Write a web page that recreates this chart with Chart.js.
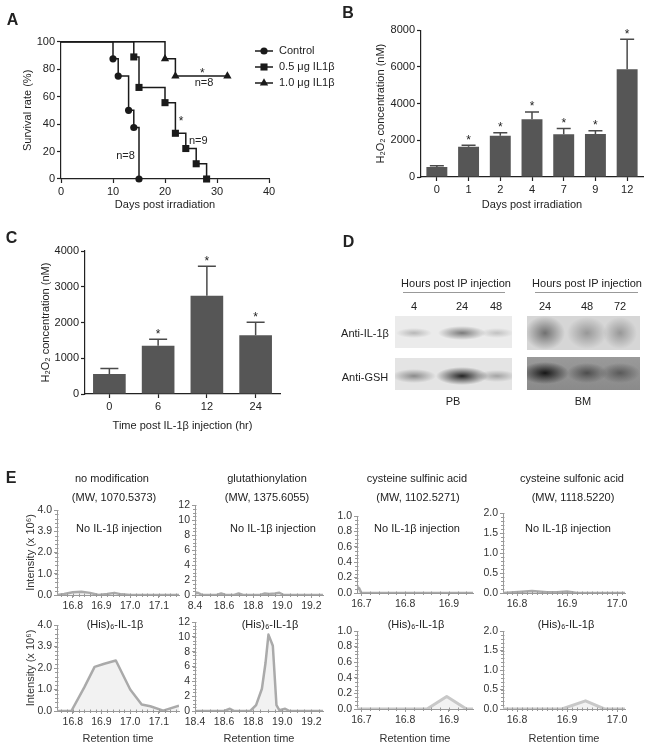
<!DOCTYPE html>
<html>
<head>
<meta charset="utf-8">
<script src="https://cdn.jsdelivr.net/npm/chart.js@4.4.1/dist/chart.umd.min.js"></script>
<style>
  body { margin: 0; background: #fff; }
  #fig { position: relative; width: 651px; height: 749px; overflow: hidden; font-family: "Liberation Sans", Arial, Helvetica, sans-serif; color: #222; }
  #fig canvas { position: absolute; left: 0; top: 0; }
  .t { position: absolute; white-space: nowrap; font-size: 11px; transform: translate(-50%, -50%); }
  .lbl { font-weight: bold; font-size: 16px; }
  .blot, .rule { position: absolute; }
  .rule { height: 0; border-top: 1px solid #999; }
</style>
</head>
<body>
<div id="fig">
  <canvas id="cA" width="651" height="749"></canvas>
  <canvas id="cB" width="651" height="749"></canvas>
  <canvas id="cC" width="651" height="749"></canvas>
  <canvas id="e1" width="651" height="749"></canvas>
  <canvas id="e2" width="651" height="749"></canvas>
  <canvas id="e3" width="651" height="749"></canvas>
  <canvas id="e4" width="651" height="749"></canvas>
  <canvas id="e5" width="651" height="749"></canvas>
  <canvas id="e6" width="651" height="749"></canvas>
  <canvas id="e7" width="651" height="749"></canvas>
  <canvas id="e8" width="651" height="749"></canvas>

  <!-- D: blots -->
  <div class="rule" style="left:403px;top:292px;width:102px"></div>
  <div class="rule" style="left:535px;top:292px;width:103px"></div>
  <div class="blot" style="left:395px;top:316px;width:117px;height:32px;background:
    radial-gradient(ellipse 18px 5px at 19px 17px, rgba(120,120,120,.45), rgba(120,120,120,0)),
    radial-gradient(ellipse 24px 7px at 67px 17px, rgba(85,85,85,.75), rgba(85,85,85,0)),
    radial-gradient(ellipse 17px 5px at 102px 17px, rgba(130,130,130,.4), rgba(130,130,130,0)),
    #ebebeb"></div>
  <div class="blot" style="left:395px;top:358px;width:117px;height:32px;background:
    radial-gradient(ellipse 22px 7px at 19px 18px, rgba(90,90,90,.65), rgba(90,90,90,0)),
    radial-gradient(ellipse 26px 9px at 67px 18px, rgba(25,25,25,.95), rgba(25,25,25,0)),
    radial-gradient(ellipse 20px 6px at 102px 18px, rgba(110,110,110,.55), rgba(110,110,110,0)),
    #e4e4e4"></div>
  <div class="blot" style="left:527px;top:316px;width:113px;height:34px;background:
    radial-gradient(ellipse 20px 17px at 18px 17px, rgba(70,70,70,.7), rgba(70,70,70,0)),
    radial-gradient(ellipse 20px 16px at 60px 17px, rgba(100,100,100,.55), rgba(100,100,100,0)),
    radial-gradient(ellipse 17px 16px at 93px 17px, rgba(100,100,100,.55), rgba(100,100,100,0)),
    #d6d6d6"></div>
  <div class="blot" style="left:527px;top:357px;width:113px;height:33px;background:
    radial-gradient(ellipse 24px 11px at 18px 16px, rgba(15,15,15,.95), rgba(15,15,15,0)),
    radial-gradient(ellipse 20px 10px at 60px 16px, rgba(60,60,60,.8), rgba(60,60,60,0)),
    radial-gradient(ellipse 20px 10px at 93px 16px, rgba(70,70,70,.75), rgba(70,70,70,0)),
    linear-gradient(#9a9a9a, #8a8a8a)"></div>
</div>

<script>
// ---- A: survival after irradiation ----
const ctrlDays = [0, 10, 11, 13, 14, 15];
const ctrlSurv = [100, 87.5, 75, 50, 37.5, 0];
const lowDays = [0, 14, 15, 20, 22, 24, 26, 28];
const lowSurv = [100, 88.9, 66.7, 55.6, 33.3, 22.2, 11.1, 0];
const highDays = [0, 20, 22, 32];
const highSurv = [100, 87.5, 75, 75];
const aSeries = ['Control', '0.5 μg IL1β', '1.0 μg IL1β'];

// ---- B: H2O2 by day ----
const bDays = ['0', '1', '2', '4', '7', '9', '12'];
const bMean = [550, 1650, 2250, 3150, 2330, 2350, 5870];
const bSem = [70, 80, 160, 400, 310, 170, 1640];
const bStar = [false, true, true, true, true, true, true];

// ---- C: H2O2 by hour after IL-1b ----
const cHours = ['0', '6', '12', '24'];
const cMean = [560, 1350, 2750, 1640];
const cSem = [150, 180, 820, 370];
const cStar = [false, true, true, true];

// ---- E: extracted ion chromatograms ----
const e1X = [16.745, 16.77, 16.8, 16.83, 16.86, 16.89, 16.92, 16.945, 16.97, 17.0, 17.17];
const e1Y = [0, 0.05, 0.13, 0.15, 0.1, 0, 0.05, 0.1, 0.03, 0, 0];
const e2X = [18.4, 18.42, 18.45, 18.55, 18.58, 18.61, 18.67, 18.7, 18.73, 18.85, 18.88, 18.91, 18.95, 18.98, 19.01, 19.28];
const e2Y = [0.2, 0.3, 0, 0, 0.2, 0, 0, 0.2, 0, 0, 0.2, 0.15, 0.2, 0.3, 0, 0];
const e3X = [16.69, 16.695, 16.7, 16.955];
const e3Y = [0.08, 0.06, 0, 0];
const e4X = [16.772, 16.81, 16.83, 16.86, 16.88, 16.9, 16.92, 17.016];
const e4Y = [0, 0.03, 0.05, 0.02, 0.02, 0.04, 0, 0];
const e5X = [16.745, 16.795, 16.84, 16.876, 16.91, 16.95, 17.0, 17.04, 17.07, 17.115, 17.17];
const e5Y = [0, 0, 1.1, 2.05, 2.2, 2.35, 1.0, 0.3, 0.22, 0.02, 0.25];
const e6X = [18.4, 18.6, 18.64, 18.67, 18.78, 18.82, 18.86, 18.885, 18.905, 18.935, 18.96, 18.98, 19.02, 19.05, 19.28];
const e6Y = [0, 0, 0.3, 0, 0, 0.8, 3.0, 6.5, 10.3, 8.8, 0.8, 0.1, 0.3, 0, 0];
const e7X = [16.69, 16.85, 16.895, 16.94, 16.955];
const e7Y = [0, 0, 0.16, 0, 0];
const e8X = [16.772, 16.89, 16.937, 16.975, 17.016];
const e8Y = [0, 0, 0.21, 0, 0];

const e1YLabels = ['0.0', '1.0', '2.0', '3.9', '4.0'];
const e2XTop = ['8.4', '18.6', '18.8', '19.0', '19.2'];
const e2XBot = ['18.4', '18.6', '18.8', '19.0', '19.2'];

const W = 651, H = 749;
const FONT = '"Liberation Sans", Arial, Helvetica, sans-serif';
Chart.defaults.font.family = FONT;
Chart.defaults.font.size = 11;
Chart.defaults.color = '#222';
Chart.defaults.animation = false;

// every canvas covers the whole figure; padding puts the plot area where it belongs
function frame(area, yTitleX, xTitleY) {
  const left = yTitleX != null ? yTitleX - 6.6 : area.l - 45;
  const bottom = xTitleY != null ? H - (xTitleY + 6.6) : H - area.b - 22;
  return {
    padding: { left: left, top: area.t, right: W - area.r, bottom: bottom },
    yWidth: area.l - left,
    xHeight: H - bottom - area.b
  };
}

const GP = { line: '#222', lw: 1.2, tick: 4, pad: 2, text: '#222', fs: 11 };
const EL = { line: '#999', lw: 1, tick: 3, pad: 2, text: '#333', fs: 10.5 };

function scale(size, st, o) {
  const s = {
    type: o.type || 'linear',
    offset: !!o.offset,
    afterFit: sc => { if (sc.isHorizontal()) sc.height = size; else sc.width = size; },
    border: { color: st.line, width: st.lw },
    grid: { drawOnChartArea: false, offset: false, tickLength: st.tick, tickColor: st.line, tickWidth: st.lw },
    ticks: { padding: st.pad, color: st.text, font: { size: st.fs }, autoSkip: false, maxRotation: 0, includeBounds: false },
    title: { display: !!o.title, text: o.title || '', padding: 0, color: st.text, font: { size: 11 } }
  };
  if (o.min != null) s.min = o.min;
  if (o.max != null) s.max = o.max;
  if (o.step != null) s.ticks.stepSize = o.step;
  if (o.cb) s.ticks.callback = o.cb;
  return s;
}

function base(f) {
  return {
    responsive: false,
    events: [],
    layout: { padding: f.padding, autoPadding: false },
    plugins: { legend: { display: false }, tooltip: { enabled: false } }
  };
}

// ---------- A ----------
const aExtras = {
  id: 'aExtras',
  afterDraw(chart, args, opts) {
    const { ctx, scales: { x, y } } = chart;
    ctx.save();
    ctx.fillStyle = '#222';
    ctx.textAlign = 'center';
    opts.notes.forEach(n => {
      const px = x.getPixelForValue(n[1]), py = y.getPixelForValue(n[2]);
      if (n[0] === '*') {
        ctx.font = '12px ' + FONT; ctx.textBaseline = 'alphabetic';
        ctx.fillText('*', px, py + 6.9);
      } else {
        ctx.font = '11px ' + FONT; ctx.textBaseline = 'middle';
        ctx.fillText(n[0], px, py);
      }
    });
    // legend: line with marker
    const rows = [51, 67, 83];
    ctx.textAlign = 'left';
    ctx.textBaseline = 'middle';
    ctx.font = '11px ' + FONT;
    chart.data.datasets.forEach((ds, i) => {
      ctx.strokeStyle = ds.borderColor;
      ctx.fillStyle = ds.borderColor;
      ctx.lineWidth = 1.5;
      ctx.beginPath(); ctx.moveTo(255, rows[i]); ctx.lineTo(273, rows[i]); ctx.stroke();
      Chart.helpers.drawPoint(ctx, { pointStyle: ds.pointStyle, radius: ds.markSize, rotation: 0, borderWidth: 0 }, 264, rows[i]);
      ctx.fillStyle = '#222';
      ctx.fillText(ds.label, 279, rows[i]);
    });
    ctx.restore();
  }
};

function kmSet(label, days, surv, style, size) {
  return {
    label: label,
    data: days.map((d, i) => ({ x: d, y: surv[i] })),
    stepped: true,
    borderColor: '#1a1a1a',
    backgroundColor: '#1a1a1a',
    borderWidth: 1.5,
    pointStyle: style,
    markSize: size,
    pointRadius: c => c.dataIndex === 0 ? 0 : size,
    pointBorderWidth: 0,
    clip: false
  };
}

const fA = frame({ l: 61, t: 41.7, r: 269, b: 179 }, 28, 205);
const optA = base(fA);
optA.plugins.aExtras = { notes: [['*', 27.2, 79], ['n=8', 27.5, 70], ['*', 23.1, 44], ['n=9', 26.4, 28], ['n=8', 12.4, 17]] };
optA.scales = {
  x: scale(fA.xHeight, GP, { min: 0, max: 40, step: 10, title: 'Days post irradiation' }),
  y: scale(fA.yWidth, GP, { min: 0, max: 100, step: 20, title: 'Survival rate (%)' })
};
new Chart(document.getElementById('cA'), {
  type: 'line',
  data: { datasets: [
    kmSet(aSeries[0], ctrlDays, ctrlSurv, 'circle', 3.6),
    kmSet(aSeries[1], lowDays, lowSurv, 'rect', 5),
    kmSet(aSeries[2], highDays, highSurv, 'triangle', 4.8)
  ] },
  options: optA,
  plugins: [aExtras]
});

// ---------- B and C ----------
const errBars = {
  id: 'errBars',
  afterDatasetsDraw(chart, args, opts) {
    const { ctx, scales: { y } } = chart;
    const vals = chart.data.datasets[0].data;
    ctx.save();
    ctx.strokeStyle = '#4a4a4a';
    ctx.lineWidth = 1.5;
    chart.getDatasetMeta(0).data.forEach((bar, i) => {
      const top = y.getPixelForValue(vals[i] + opts.sem[i]);
      ctx.beginPath();
      ctx.moveTo(bar.x, bar.y); ctx.lineTo(bar.x, top);
      ctx.moveTo(bar.x - opts.cap / 2, top); ctx.lineTo(bar.x + opts.cap / 2, top);
      ctx.stroke();
      if (opts.stars[i]) {
        ctx.fillStyle = '#222';
        ctx.font = '12px ' + FONT;
        ctx.textAlign = 'center';
        ctx.textBaseline = 'alphabetic';
        ctx.fillText('*', bar.x, top - 1.5);
      }
    });
    ctx.restore();
  }
};

function barChart(id, area, titleX, titleY, labels, means, sem, stars, o) {
  const f = frame(area, titleX, titleY);
  const opt = base(f);
  opt.plugins.errBars = { sem: sem, stars: stars, cap: o.cap };
  opt.scales = {
    x: scale(f.xHeight, GP, { type: 'category', offset: true, title: o.xTitle }),
    y: scale(f.yWidth, GP, { min: 0, max: o.max, step: o.step, title: 'H₂O₂ concentration (nM)', cb: v => String(v) })
  };
  new Chart(document.getElementById(id), {
    type: 'bar',
    data: { labels: labels, datasets: [{ data: means, backgroundColor: '#565656', borderWidth: 0, barPercentage: o.bar, categoryPercentage: 1 }] },
    options: opt,
    plugins: [errBars]
  });
}

barChart('cB', { l: 421, t: 30.3, r: 643, b: 177 }, 381, 205, bDays, bMean, bSem, bStar,
  { max: 8000, step: 2000, cap: 14, bar: 0.66, xTitle: 'Days post irradiation' });
barChart('cC', { l: 85, t: 251, r: 280, b: 394 }, 46, 426, cHours, cMean, cSem, cStar,
  { max: 4000, step: 1000, cap: 18, bar: 0.67, xTitle: 'Time post IL-1β injection (hr)' });

// ---------- E ----------
const minorTicks = {
  id: 'minorTicks',
  afterDraw(chart, args, opts) {
    const { ctx, scales: { x, y } } = chart;
    ctx.save();
    ctx.strokeStyle = '#999';
    ctx.lineWidth = 1;
    ctx.beginPath();
    for (let k = Math.ceil(x.min / opts.x - 1e-6); k * opts.x <= x.max + 1e-9; k++) {
      const px = Math.round(x.getPixelForValue(k * opts.x)) + 0.5;
      ctx.moveTo(px, y.bottom - 1.5); ctx.lineTo(px, y.bottom + 2);
    }
    for (let k = 0; k * opts.y <= y.max + 1e-9; k++) {
      const py = Math.round(y.getPixelForValue(k * opts.y)) + 0.5;
      ctx.moveTo(x.left - 2, py); ctx.lineTo(x.left + 1.5, py);
    }
    ctx.stroke();
    ctx.restore();
  }
};

function eChart(id, area, xs, ys, o) {
  const f = frame(area, o.yTitle ? 31 : null, o.xTitle ? 739 : null);
  const opt = base(f);
  opt.plugins.minorTicks = { x: o.mx, y: o.my };
  opt.scales = {
    x: scale(f.xHeight, EL, { min: o.x[0], max: o.x[1], step: o.xs, title: o.xTitle ? 'Retention time' : '',
      cb: o.xl ? (v, i) => o.xl[i] : v => v.toFixed(1) }),
    y: scale(f.yWidth, EL, { min: 0, max: o.ymax, step: o.ys, title: o.yTitle ? 'Intensity (x 10⁶)' : '',
      cb: o.yl ? (v, i) => o.yl[i] : (o.ys < 1 ? v => v.toFixed(1) : v => String(v)) })
  };
  new Chart(document.getElementById(id), {
    type: 'line',
    data: { datasets: [{
      data: xs.map((x, i) => ({ x: x, y: ys[i] })),
      borderColor: o.color || '#aaaaaa',
      borderWidth: o.lw || 2.5,
      backgroundColor: 'rgba(0,0,0,0.05)',
      fill: 'origin',
      pointRadius: 0,
      tension: 0,
      borderJoinStyle: 'round'
    }] },
    options: opt,
    plugins: [minorTicks]
  });
}

const col1 = { x: [16.745, 17.17], xs: 0.1, mx: 0.02, ymax: 4, ys: 1, my: 0.2, yl: e1YLabels };
const col2 = { x: [18.4, 19.28], xs: 0.2, mx: 0.05, ymax: 12, ys: 2, my: 0.5 };
const col3 = { x: [16.69, 16.955], xs: 0.1, mx: 0.02, ymax: 1, ys: 0.2, my: 0.05 };
const col4 = { x: [16.772, 17.016], xs: 0.1, mx: 0.01, ymax: 2, ys: 0.5, my: 0.1 };

eChart('e1', { l: 57, t: 510, r: 179, b: 595 }, e1X, e1Y, Object.assign({ yTitle: true }, col1));
eChart('e2', { l: 195, t: 505, r: 323, b: 595 }, e2X, e2Y, Object.assign({ xl: e2XTop }, col2));
eChart('e3', { l: 357, t: 516, r: 473, b: 593 }, e3X, e3Y, Object.assign({}, col3));
eChart('e4', { l: 503, t: 513, r: 625, b: 593 }, e4X, e4Y, Object.assign({}, col4));
eChart('e5', { l: 57, t: 625, r: 179, b: 711 }, e5X, e5Y, Object.assign({ yTitle: true, xTitle: true }, col1));
eChart('e6', { l: 195, t: 622, r: 323, b: 711 }, e6X, e6Y, Object.assign({ xTitle: true, xl: e2XBot }, col2));
eChart('e7', { l: 357, t: 631, r: 473, b: 709 }, e7X, e7Y, Object.assign({ xTitle: true, color: '#c8c8c8', lw: 3 }, col3));
eChart('e8', { l: 503, t: 631, r: 625, b: 709 }, e8X, e8Y, Object.assign({ xTitle: true, color: '#c8c8c8', lw: 3 }, col4));

// ---------- loose text ----------
const texts = [
  ['A', 12.5, 20, 'lbl'], ['B', 348, 13, 'lbl'], ['C', 11.5, 238, 'lbl'], ['D', 348.5, 242, 'lbl'], ['E', 11, 478, 'lbl'],
  ['Hours post IP injection', 456, 283], ['Hours post IP injection', 587, 283],
  ['4', 414, 306], ['24', 462, 306], ['48', 496, 306], ['24', 545, 306], ['48', 587, 306], ['72', 620, 306],
  ['Anti-IL-1β', 365, 333], ['Anti-GSH', 365, 377], ['PB', 453, 401], ['BM', 583, 401],
  ['no modification', 112, 478], ['(MW, 1070.5373)', 114, 497],
  ['glutathionylation', 267, 478], ['(MW, 1375.6055)', 267, 497],
  ['cysteine sulfinic acid', 417, 478], ['(MW, 1102.5271)', 418, 497],
  ['cysteine sulfonic acid', 572, 478], ['(MW, 1118.5220)', 573, 497],
  ['No IL-1β injection', 119, 528], ['No IL-1β injection', 273, 528], ['No IL-1β injection', 417, 528], ['No IL-1β injection', 568, 528],
  ['(His)₆-IL-1β', 115, 624], ['(His)₆-IL-1β', 270, 624], ['(His)₆-IL-1β', 416, 624], ['(His)₆-IL-1β', 566, 624]
];
const fig = document.getElementById('fig');
texts.forEach(t => {
  const d = document.createElement('div');
  d.className = 't' + (t[3] ? ' ' + t[3] : '');
  d.textContent = t[0];
  d.style.left = t[1] + 'px';
  d.style.top = t[2] + 'px';
  fig.appendChild(d);
});
</script>
</body>
</html>
